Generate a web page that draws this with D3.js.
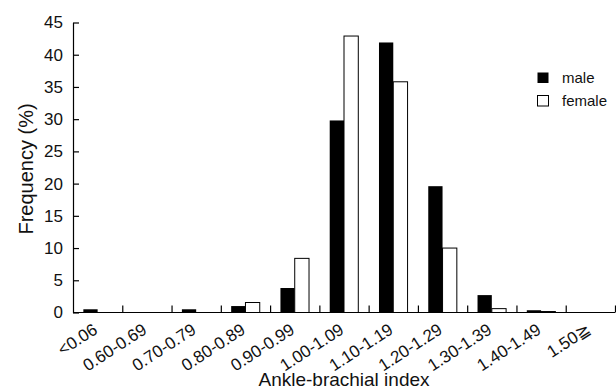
<!DOCTYPE html>
<html>
<head>
<meta charset="utf-8">
<script src="https://cdn.jsdelivr.net/npm/d3@7"></script>
<style>
  body { margin: 0; background: #fff; }
  svg { font-family: "Liberation Sans", Arial, sans-serif; }
  .axis path, .axis line { stroke: #000; stroke-width: 1.2; }
  .axis text { fill: #111; }
</style>
</head>
<body>
<svg width="616" height="392"></svg>
<script>
var categories = ["<0.06", "0.60-0.69", "0.70-0.79", "0.80-0.89", "0.90-0.99", "1.00-1.09",
                  "1.10-1.19", "1.20-1.29", "1.30-1.39", "1.40-1.49", "1.50\u2267"];
var male =   [0.5, 0, 0.5, 1.0, 3.8, 29.8, 41.9, 19.6, 2.7, 0.35, 0];
var female = [0, 0, 0, 1.55, 8.4, 42.9, 35.8, 10.0, 0.6, 0.15, 0];
var yTicks = [0, 5, 10, 15, 20, 25, 30, 35, 40, 45];
var seriesNames = ["male", "female"];

var svg = d3.select("svg"),
  margin = { top: 22.5, right: 1, bottom: 79.5, left: 73 },
  width = 616 - margin.left - margin.right,
  height = 392 - margin.top - margin.bottom;

var g = svg.append("g")
  .attr("transform", "translate(" + margin.left + "," + margin.top + ")");

var x0 = d3.scaleBand().domain(categories).range([0, width])
  .paddingInner(0.42).paddingOuter(0.21);
var x1 = d3.scaleBand().domain(seriesNames).range([0, x0.bandwidth()]);
var sep = d3.scaleLinear().domain([0, categories.length]).range([0, width]);
var y = d3.scaleLinear().domain([0, 45]).range([height, 0]);

var data = categories.map(function (c, i) {
  return { cat: c, values: [{ key: "male", v: male[i] }, { key: "female", v: female[i] }] };
});

// bars
var groups = g.selectAll(".grp").data(data).enter().append("g")
  .attr("class", "grp")
  .attr("transform", function (d) { return "translate(" + x0(d.cat) + ",0)"; });

groups.selectAll("rect")
  .data(function (d) { return d.values.filter(function (e) { return e.v > 0; }); })
  .enter().append("rect")
  .attr("x", function (d) { return x1(d.key); })
  .attr("y", function (d) { return y(d.v); })
  .attr("width", x1.bandwidth())
  .attr("height", function (d) { return height - y(d.v); })
  .attr("fill", function (d) { return d.key === "male" ? "#000" : "#fff"; })
  .attr("stroke", function (d) { return d.key === "male" ? "none" : "#000"; })
  .attr("stroke-width", 1);

// y axis, ticks pointing inward
g.append("g")
  .attr("class", "axis axis--y")
  .call(d3.axisLeft(y).tickValues(yTicks).tickSizeInner(-6).tickSizeOuter(0).tickPadding(10))
  .selectAll("text").attr("font-size", 17);

// x axis separators
g.append("g")
  .attr("class", "axis")
  .attr("transform", "translate(0," + height + ")")
  .call(d3.axisTop(sep).tickValues(d3.range(1, categories.length + 1)).tickSize(7).tickFormat(""))
  .select(".domain").remove();

var xAxis = g.append("g")
  .attr("class", "axis axis--x")
  .attr("transform", "translate(0," + height + ")")
  .call(d3.axisBottom(x0).tickSize(0).tickPadding(0));
xAxis.select(".domain").attr("d", "M0,0H" + width);
xAxis.selectAll("text")
  .attr("font-size", 17)
  .attr("text-anchor", "end")
  .attr("dy", null)
  .attr("y", null)
  .attr("transform", "translate(1,20) rotate(-33)");

// axis titles
svg.append("text")
  .attr("x", 344).attr("y", 386)
  .attr("text-anchor", "middle")
  .attr("font-size", 19)
  .attr("fill", "#111")
  .text("Ankle-brachial index");

svg.append("text")
  .attr("transform", "translate(33,169) rotate(-90)")
  .attr("text-anchor", "middle")
  .attr("font-size", 20)
  .attr("fill", "#111")
  .text("Frequency (%)");

// legend
var legend = svg.append("g").attr("transform", "translate(537,72)");
seriesNames.forEach(function (s, i) {
  var row = legend.append("g").attr("transform", "translate(0," + (i * 23) + ")");
  row.append("rect")
    .attr("x", 0.5).attr("y", 0.5)
    .attr("width", 11).attr("height", 10.5)
    .attr("fill", s === "male" ? "#000" : "#fff")
    .attr("stroke", s === "male" ? "none" : "#000");
  row.append("text")
    .attr("x", 25).attr("y", 10.5)
    .attr("font-size", 15)
    .attr("fill", "#111")
    .text(s);
});
</script>
</body>
</html>
